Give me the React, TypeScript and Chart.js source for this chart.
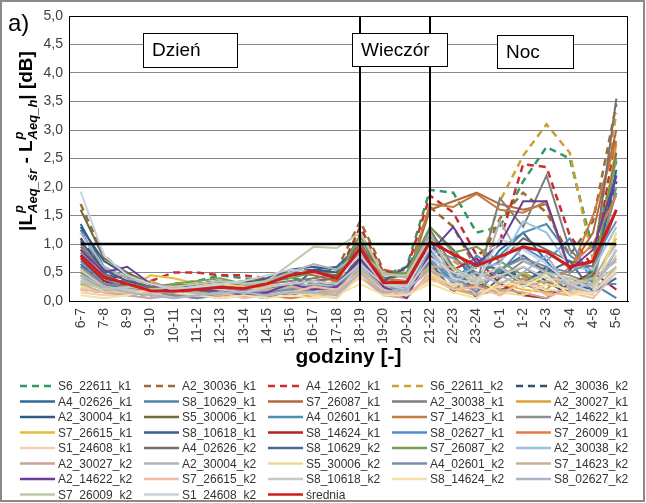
import React, { useEffect, useRef } from "react";
import { Chart, registerables } from "chart.js";

Chart.register(...registerables);

const CATEGORIES = ["6-7","7-8","8-9","9-10","10-11","11-12","12-13","13-14","14-15","15-16","16-17","17-18","18-19","19-20","20-21","21-22","22-23","23-24","0-1","1-2","2-3","3-4","4-5","5-6"];
const Y_TICKS = [0, 0.5, 1, 1.5, 2, 2.5, 3, 3.5, 4, 4.5, 5];
const THRESHOLD = 1.0;
const EVENING_START = "18-19";
const EVENING_END = "21-22";

const S6_22611_k1 = [0.3,0.25,0.2,0.15,0.3,0.35,0.45,0.4,0.35,0.4,0.35,0.3,1.2,0.45,0.6,1.95,1.9,1.2,1.3,2.1,2.7,2.5,0.9,2.45];
const A2_30036_k1 = [1.7,0.8,0.45,0.3,0.25,0.3,0.35,0.3,0.3,0.45,0.5,0.55,1.4,0.55,0.45,1.65,1.3,0.55,1.45,1.9,1.55,0.8,1.4,3.45];
const A4_12602_k1 = [0.6,0.45,0.4,0.35,0.5,0.5,0.45,0.45,0.4,0.5,0.55,0.4,1.3,0.5,0.55,1.85,1.55,0.8,1.05,2.4,2.35,1.15,0.6,2.9];
const S6_22611_k2 = [0.2,0.15,0.1,0.1,0.15,0.2,0.2,0.15,0.2,0.25,0.3,0.35,0.9,0.35,0.3,0.8,0.7,0.45,1.75,2.55,3.1,2.6,0.7,3.3];
const A2_30036_k2 = [1.1,0.5,0.3,0.2,0.15,0.2,0.2,0.25,0.15,0.3,0.3,0.25,0.8,0.3,0.35,0.95,0.6,0.3,0.5,0.45,0.3,0.25,0.55,2.1];
const A4_02626_k1 = [1.35,0.6,0.4,0.2,0.15,0.2,0.1,0.1,0.05,0.2,0.55,0.6,1.0,0.3,0.25,1.1,0.8,0.35,0.9,1.2,0.7,0.2,0.45,2.2];
const S8_10629_k1 = [1.25,0.5,0.25,0.15,0.2,0.15,0.2,0.3,0.15,0.1,0.2,0.3,0.75,0.25,0.2,0.85,0.4,0.15,0.6,0.35,0.5,0.15,0.3,0.05];
const S7_26087_k1 = [0.95,0.55,0.35,0.25,0.3,0.25,0.3,0.35,0.4,0.5,0.45,0.35,0.95,0.3,0.35,1.6,1.75,1.9,1.7,1.6,1.7,0.55,1.2,3.0];
const A2_30038_k1 = [1.0,0.45,0.3,0.2,0.25,0.3,0.25,0.2,0.3,0.35,0.4,0.45,0.85,0.4,0.3,1.25,0.6,0.3,1.8,1.3,2.2,0.9,0.5,1.6];
const A2_30027_k1 = [0.5,0.3,0.25,0.35,0.2,0.2,0.15,0.1,0.15,0.25,0.2,0.1,0.6,0.2,0.15,0.6,0.35,0.25,0.15,0.5,0.3,0.4,0.25,2.75];
const A2_30004_k1 = [1.3,0.7,0.45,0.3,0.2,0.15,0.25,0.35,0.3,0.5,0.55,0.5,1.0,0.4,0.45,1.05,0.5,0.05,0.4,0.6,0.35,0.1,0.35,2.3];
const S5_30006_k1 = [1.6,0.75,0.5,0.3,0.25,0.3,0.35,0.25,0.35,0.45,0.5,0.45,1.15,0.35,0.5,1.2,0.45,0.3,0.2,0.3,0.15,0.2,0.4,2.6];
const A4_02601_k1 = [0.7,0.35,0.2,0.1,0.1,0.15,0.2,0.1,0.1,0.15,0.2,0.25,0.7,0.2,0.25,0.9,0.3,0.7,0.8,1.2,1.35,0.8,0.5,1.9];
const S7_14623_k1 = [0.55,0.3,0.15,0.1,0.15,0.2,0.15,0.2,0.25,0.3,0.35,0.4,1.0,0.4,0.35,1.7,1.65,1.88,1.6,1.55,1.75,0.5,1.5,2.8];
const A2_14622_k1 = [0.85,0.4,0.3,0.2,0.15,0.25,0.2,0.15,0.2,0.3,0.25,0.3,0.7,0.3,0.25,0.9,0.75,0.5,0.4,0.7,0.55,0.45,0.3,2.0];
const S7_26615_k1 = [0.3,0.25,0.2,0.45,0.4,0.3,0.25,0.2,0.3,0.2,0.15,0.05,0.55,0.15,0.1,0.4,0.2,0.1,0.3,0.2,0.15,0.1,0.35,1.1];
const S8_10618_k1 = [1.05,0.55,0.35,0.25,0.2,0.3,0.35,0.3,0.4,0.55,0.6,0.55,0.9,0.35,0.6,1.15,0.5,0.2,0.55,0.3,0.6,0.3,0.2,0.9];
const S8_14624_k1 = [0.75,0.35,0.25,0.15,0.1,0.1,0.15,0.1,0.15,0.2,0.3,0.25,0.8,0.3,0.2,0.8,0.55,0.75,0.3,0.1,0.05,0.3,0.5,0.2];
const S8_02627_k1 = [0.9,0.4,0.2,0.15,0.1,0.05,0.1,0.15,0.1,0.15,0.2,0.2,0.65,0.2,0.15,0.75,0.3,0.8,0.5,0.95,0.7,1.1,0.3,0.3];
const S7_26009_k1 = [0.45,0.2,0.15,0.1,0.15,0.1,0.1,0.15,0.1,0.05,0.1,0.15,0.5,0.15,0.2,0.55,0.2,0.3,0.1,0.4,0.2,0.6,1.0,1.85];
const S1_24608_k1 = [0.15,0.1,0.1,0.15,0.1,0.15,0.2,0.15,0.1,0.2,0.1,0.15,0.4,0.1,0.15,0.35,0.3,0.15,0.25,0.35,0.2,0.15,0.2,0.8];
const A4_02626_k2 = [0.8,0.4,0.3,0.25,0.2,0.15,0.2,0.25,0.2,0.3,0.35,0.4,1.05,0.3,0.3,1.3,0.9,0.45,0.7,1.1,0.9,0.7,0.6,3.55];
const S8_10629_k2 = [0.65,0.3,0.2,0.1,0.15,0.2,0.15,0.1,0.2,0.25,0.2,0.3,0.75,0.25,0.2,0.7,0.15,0.65,0.55,0.8,0.5,0.7,0.15,0.4];
const S7_26087_k2 = [0.5,0.25,0.2,0.15,0.3,0.35,0.4,0.3,0.35,0.4,0.5,0.4,1.15,0.45,0.5,1.3,0.85,0.95,0.7,0.45,0.3,0.2,0.5,2.5];
const A2_30038_k2 = [0.4,0.2,0.15,0.2,0.1,0.15,0.1,0.2,0.15,0.25,0.3,0.25,0.6,0.25,0.15,0.85,0.4,0.6,0.65,1.4,1.2,0.6,0.55,1.3];
const A2_30027_k2 = [0.35,0.2,0.1,0.05,0.1,0.1,0.05,0.1,0.15,0.2,0.15,0.1,0.45,0.1,0.05,0.5,0.25,0.1,0.2,0.15,0.05,0.25,0.15,0.6];
const A2_30004_k2 = [1.2,0.6,0.4,0.3,0.25,0.2,0.3,0.25,0.35,0.5,0.65,0.55,0.85,0.5,0.4,1.2,0.35,0.2,1.4,0.7,0.5,0.25,0.4,1.0];
const S5_30006_k2 = [0.25,0.15,0.15,0.1,0.2,0.25,0.3,0.25,0.2,0.15,0.1,0.05,0.45,0.2,0.25,0.5,0.25,0.4,0.15,0.1,0.3,0.2,0.1,1.2];
const A4_02601_k2 = [0.6,0.3,0.25,0.15,0.1,0.05,0.15,0.2,0.15,0.2,0.25,0.2,0.7,0.2,0.25,0.65,0.45,0.15,0.55,0.75,0.6,0.5,0.7,1.4];
const S7_14623_k2 = [0.3,0.15,0.1,0.15,0.2,0.15,0.1,0.15,0.2,0.25,0.2,0.15,0.55,0.25,0.3,0.6,0.6,0.3,0.45,0.25,0.35,0.3,0.4,0.7];
const A2_14622_k2 = [0.9,0.5,0.6,0.3,0.15,0.2,0.2,0.1,0.15,0.3,0.2,0.25,0.75,0.25,0.05,0.85,1.3,0.65,1.0,1.75,1.75,0.55,0.9,2.2];
const S7_26615_k2 = [0.2,0.15,0.2,0.15,0.05,0.1,0.15,0.05,0.1,0.15,0.25,0.2,0.5,0.2,0.1,0.45,0.2,0.25,0.1,0.35,0.1,0.15,0.05,0.5];
const S8_10618_k2 = [0.55,0.25,0.2,0.1,0.2,0.25,0.2,0.15,0.25,0.3,0.35,0.3,0.65,0.3,0.2,0.75,0.5,0.35,0.45,0.6,0.4,0.35,0.25,0.9];
const S8_14624_k2 = [0.1,0.05,0.1,0.2,0.15,0.1,0.05,0.1,0.05,0.1,0.05,0.1,0.3,0.1,0.1,0.3,0.15,0.05,0.35,0.25,0.45,0.1,0.15,0.55];
const S8_02627_k2 = [0.45,0.25,0.15,0.1,0.05,0.1,0.15,0.15,0.1,0.15,0.15,0.1,0.5,0.15,0.2,0.55,0.35,0.5,0.3,0.5,0.8,0.2,0.3,0.75];
const S7_26009_k2 = [0.35,0.2,0.25,0.2,0.25,0.3,0.35,0.3,0.35,0.65,0.95,0.93,1.2,0.45,0.45,1.1,0.55,0.4,0.6,0.3,0.5,0.4,0.3,0.6];
const S1_24608_k2 = [1.92,0.8,0.45,0.3,0.2,0.25,0.3,0.35,0.45,0.55,0.5,0.4,0.8,0.3,0.25,0.95,0.4,0.3,1.1,0.9,0.65,0.3,0.15,0.5];
const SREDNIA = [0.8,0.42,0.3,0.18,0.17,0.2,0.24,0.22,0.3,0.45,0.52,0.4,0.92,0.32,0.33,1.04,0.82,0.62,0.78,0.95,0.86,0.6,0.7,1.6];

type S = { name: string; data: number[]; color: string; dashed?: boolean; width?: number };

const SERIES: S[] = [
  { name: "S6_22611_k1", data: S6_22611_k1, color: "#2f9a62", dashed: true },
  { name: "A2_30036_k1", data: A2_30036_k1, color: "#9b6d35", dashed: true },
  { name: "A4_12602_k1", data: A4_12602_k1, color: "#c9302c", dashed: true },
  { name: "S6_22611_k2", data: S6_22611_k2, color: "#c9a234", dashed: true },
  { name: "A2_30036_k2", data: A2_30036_k2, color: "#34506e", dashed: true },
  { name: "A4_02626_k1", data: A4_02626_k1, color: "#2a6a9c" },
  { name: "S8_10629_k1", data: S8_10629_k1, color: "#5383a6" },
  { name: "S7_26087_k1", data: S7_26087_k1, color: "#b3683c" },
  { name: "A2_30038_k1", data: A2_30038_k1, color: "#7f7f7f" },
  { name: "A2_30027_k1", data: A2_30027_k1, color: "#dca234" },
  { name: "A2_30004_k1", data: A2_30004_k1, color: "#2f5c86" },
  { name: "S5_30006_k1", data: S5_30006_k1, color: "#6e6c44" },
  { name: "A4_02601_k1", data: A4_02601_k1, color: "#4e8db2" },
  { name: "S7_14623_k1", data: S7_14623_k1, color: "#c27c40" },
  { name: "A2_14622_k1", data: A2_14622_k1, color: "#8e8e8e" },
  { name: "S7_26615_k1", data: S7_26615_k1, color: "#e6bb3a" },
  { name: "S8_10618_k1", data: S8_10618_k1, color: "#3d5c8e" },
  { name: "S8_14624_k1", data: S8_14624_k1, color: "#b02424" },
  { name: "S8_02627_k1", data: S8_02627_k1, color: "#4f8ecb" },
  { name: "S7_26009_k1", data: S7_26009_k1, color: "#e07e40" },
  { name: "S1_24608_k1", data: S1_24608_k1, color: "#efd2b6" },
  { name: "A4_02626_k2", data: A4_02626_k2, color: "#7a6e6e" },
  { name: "S8_10629_k2", data: S8_10629_k2, color: "#4b6b8b" },
  { name: "S7_26087_k2", data: S7_26087_k2, color: "#7aa054" },
  { name: "A2_30038_k2", data: A2_30038_k2, color: "#9fc0dc" },
  { name: "A2_30027_k2", data: A2_30027_k2, color: "#c9a29a" },
  { name: "A2_30004_k2", data: A2_30004_k2, color: "#b2b2b2" },
  { name: "S5_30006_k2", data: S5_30006_k2, color: "#eed892" },
  { name: "A4_02601_k2", data: A4_02601_k2, color: "#7b8da6" },
  { name: "S7_14623_k2", data: S7_14623_k2, color: "#c4b39a" },
  { name: "A2_14622_k2", data: A2_14622_k2, color: "#6a3e98" },
  { name: "S7_26615_k2", data: S7_26615_k2, color: "#f0bca6" },
  { name: "S8_10618_k2", data: S8_10618_k2, color: "#c8c8c8" },
  { name: "S8_14624_k2", data: S8_14624_k2, color: "#f5e1a8" },
  { name: "S8_02627_k2", data: S8_02627_k2, color: "#a9b5c9" },
  { name: "S7_26009_k2", data: S7_26009_k2, color: "#bccaa8" },
  { name: "S1_24608_k2", data: S1_24608_k2, color: "#c6d2de" },
  { name: "średnia", data: SREDNIA, color: "#d01c1c", width: 3 },
];

const FONT = "'Liberation Sans', Arial, sans-serif";
const DASH = [7, 5];

const overlay = {
  id: "overlay",
  afterDatasetsDraw(chart: any) {
    const { ctx, chartArea: a, scales } = chart;
    const x = scales.x, y = scales.y;
    ctx.save();
    // threshold line
    const yT = y.getPixelForValue(THRESHOLD);
    ctx.strokeStyle = "#000";
    ctx.lineWidth = 2.5;
    ctx.beginPath();
    ctx.moveTo(x.getPixelForValue(0), yT);
    ctx.lineTo(x.getPixelForValue(CATEGORIES.length - 1), yT);
    ctx.stroke();
    // vertical period lines
    ctx.lineWidth = 2;
    [EVENING_START, EVENING_END].forEach((c) => {
      const px = Math.round(x.getPixelForValue(CATEGORIES.indexOf(c)));
      ctx.beginPath();
      ctx.moveTo(px, a.top);
      ctx.lineTo(px, a.bottom);
      ctx.stroke();
    });
    // plot border
    ctx.lineWidth = 1;
    ctx.strokeStyle = "#000";
    ctx.strokeRect(a.left + 0.5, a.top + 0.5, a.right - a.left - 1, a.bottom - a.top);
    ctx.restore();
  },
  afterDraw(chart: any) {
    const { ctx, chartArea: a } = chart;
    ctx.save();
    // period boxes
    const boxes = [
      { t: "Dzień", x: 143, y: 33, w: 94, h: 34 },
      { t: "Wieczór", x: 352, y: 33, w: 95, h: 33 },
      { t: "Noc", x: 497, y: 35, w: 76, h: 33 },
    ];
    boxes.forEach((b) => {
      ctx.fillStyle = "#fff";
      ctx.fillRect(b.x, b.y, b.w, b.h);
      ctx.strokeStyle = "#000";
      ctx.lineWidth = 1;
      ctx.strokeRect(b.x + 0.5, b.y + 0.5, b.w, b.h);
      ctx.fillStyle = "#000";
      ctx.font = `19px ${FONT}`;
      ctx.textBaseline = "middle";
      ctx.textAlign = "left";
      ctx.fillText(b.t, b.x + 9, b.y + b.h / 2 + 1);
    });
    // a)
    ctx.fillStyle = "#000";
    ctx.font = `24px ${FONT}`;
    ctx.textBaseline = "alphabetic";
    ctx.fillText("a)", 8, 31);

    // y axis title (rich text)
    ctx.save();
    ctx.translate(32, 141);
    ctx.rotate(-Math.PI / 2);
    const big = `bold 19px ${FONT}`;
    const small = `italic bold 13px ${FONT}`;
    const parts: any[] = [
      { t: "|L" },
      { sup: "p", sub: "Aeq_śr" },
      { t: " - L" },
      { sup: "p", sub: "Aeq_h" },
      { t: "| [dB]" },
    ];
    const widthOf = (p: any) => {
      if (p.t) { ctx.font = big; return ctx.measureText(p.t).width; }
      ctx.font = small;
      return Math.max(ctx.measureText(p.sup).width, ctx.measureText(p.sub).width) + 1;
    };
    const total = parts.reduce((s, p) => s + widthOf(p), 0);
    let cx = -total / 2;
    ctx.fillStyle = "#000";
    ctx.textAlign = "left";
    parts.forEach((p) => {
      const w = widthOf(p);
      if (p.t) {
        ctx.font = big;
        ctx.fillText(p.t, cx, 0);
      } else {
        ctx.font = small;
        ctx.fillText(p.sup, cx + 1, -9);
        ctx.fillText(p.sub, cx + 1, 5);
      }
      cx += w;
    });
    ctx.restore();

    // x axis title
    ctx.font = `bold 21px ${FONT}`;
    ctx.textAlign = "center";
    ctx.textBaseline = "middle";
    ctx.fillStyle = "#000";
    ctx.fillText("godziny [-]", (a.left + a.right) / 2, 357);

    // legend
    const ds = chart.data.datasets;
    ctx.textAlign = "left";
    ctx.textBaseline = "middle";
    ctx.font = `12px ${FONT}`;
    for (let i = 0; i < ds.length; i++) {
      const d = ds[i];
      const col = i % 5, row = Math.floor(i / 5);
      const lx = 20 + col * 124;
      const ly = 386 + row * 15.5;
      ctx.save();
      ctx.strokeStyle = d.borderColor;
      ctx.lineWidth = d.borderDash && d.borderDash.length ? 2.5 : 2.5;
      ctx.setLineDash(d.borderDash || []);
      ctx.beginPath();
      ctx.moveTo(lx, ly);
      ctx.lineTo(lx + 35, ly);
      ctx.stroke();
      ctx.restore();
      ctx.fillStyle = "#333";
      ctx.fillText(d.label, lx + 38, ly + 1);
    }

    // outer border
    ctx.strokeStyle = "#8a8a8a";
    ctx.lineWidth = 2;
    ctx.strokeRect(1, 1, 643, 500);
    ctx.restore();
  },
};

export default function App() {
  const ref = useRef<HTMLCanvasElement | null>(null);
  useEffect(() => {
    if (!ref.current) return;
    const n = SERIES.length;
    const chart = new Chart(ref.current, {
      type: "line",
      data: {
        labels: CATEGORIES,
        datasets: SERIES.map((s, i) => ({
          label: s.name,
          data: s.data,
          borderColor: s.color,
          backgroundColor: s.color,
          borderWidth: s.width ?? (s.dashed ? 2.5 : 2),
          borderDash: s.dashed ? DASH : [],
          pointRadius: 0,
          pointHoverRadius: 0,
          tension: 0,
          fill: false,
          order: n - i,
        })),
      },
      options: {
        responsive: false,
        animation: false,
        devicePixelRatio: 1,
        layout: { padding: { top: 16, right: 18, left: 0, bottom: 0 } },
        plugins: { legend: { display: false }, tooltip: { enabled: false }, title: { display: false } },
        scales: {
          x: {
            type: "category",
            offset: true,
            grid: { display: false, drawTicks: false },
            border: { display: true, color: "#000" },
            ticks: {
              autoSkip: false,
              minRotation: 90,
              maxRotation: 90,
              padding: 7,
              color: "#404040",
              font: { family: FONT, size: 14 },
            },
            afterFit: (s: any) => { s.height = 202; },
          },
          y: {
            min: 0,
            max: 5,
            afterBuildTicks: (s: any) => { s.ticks = Y_TICKS.map((v) => ({ value: v })); },
            grid: { color: "#868686", drawTicks: false, lineWidth: 1 },
            border: { display: true, color: "#000" },
            ticks: {
              padding: 6,
              color: "#404040",
              font: { family: FONT, size: 14 },
              callback: (v: any) => Number(v).toFixed(1).replace(".", ","),
            },
            afterFit: (s: any) => { s.width = 69; },
          },
        },
      },
      plugins: [overlay],
    });
    return () => chart.destroy();
  }, []);
  return (
    <div style={{ position: "fixed", left: 0, top: 0, width: 646, height: 503, background: "#fff" }}>
      <canvas ref={ref} width={646} height={503} style={{ width: 646, height: 503, display: "block" }} />
    </div>
  );
}
